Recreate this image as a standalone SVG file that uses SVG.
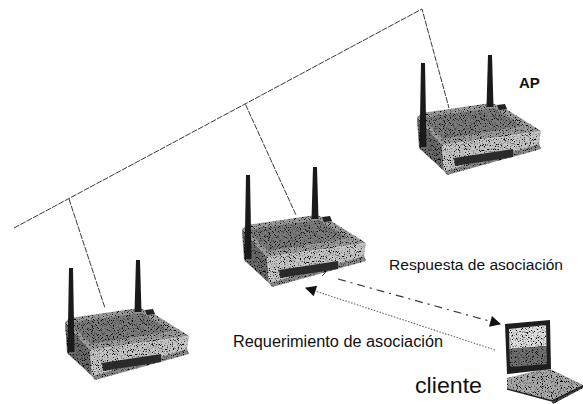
<svg xmlns="http://www.w3.org/2000/svg" xmlns:xlink="http://www.w3.org/1999/xlink" width="583" height="404" viewBox="0 0 583 404">
  <style>
    .wire { stroke: #3a3a3a; stroke-width: 1; fill: none; stroke-dasharray: 6 1.2; }
    .msg-resp { stroke: #3a3a3a; stroke-width: 1.2; fill: none; stroke-dasharray: 8 5 2 5; }
    .msg-req { stroke: #666; stroke-width: 1.1; fill: none; stroke-dasharray: 1.5 1.5; }
    .label { font-family: "Liberation Sans", Arial, sans-serif; fill: #111; }
  </style>
  <defs>
    <!-- speckle texture for the device bodies -->
    <filter id="grain" x="0" y="0" width="1" height="1">
      <feTurbulence type="fractalNoise" baseFrequency="1.2" numOctaves="1" seed="3" result="noise"/>
      <feColorMatrix in="noise" type="matrix" values="0 0 0 0 0  0 0 0 0 0  0 0 0 0 0  0 0 0 6 -3.1" result="dots"/>
      <feComposite in="dots" in2="SourceGraphic" operator="in" result="speck"/>
      <feMerge>
        <feMergeNode in="SourceGraphic"/>
        <feMergeNode in="speck"/>
      </feMerge>
    </filter>
    <marker id="head" viewBox="0 0 10 10" refX="9" refY="5" markerWidth="13" markerHeight="11" markerUnits="userSpaceOnUse" orient="auto">
      <path d="M0,0 L10,5 L0,10 z" fill="#111"/>
    </marker>
    <!-- wireless router, origin at the top of the left antenna -->
    <g id="router">
      <g filter="url(#grain)">
        <polygon points="-6,54 19,82 21,108 -4,85" fill="#6a6a6a"/>
        <polygon points="-6,54 -1,50 68,40 80,44 118,68 19,82" fill="#9a9a9a"/>
        <polygon points="-1,55 70,45 100,63 20,76" fill="#7a7a7a"/>
        <polygon points="19,82 118,68 116,81 21,108" fill="#c4c4c4"/>
        <polygon points="21,108 116,81 118,86 24,112" fill="#888"/>
      </g>
      <polygon points="31,95 90,86 90,94 32,103" fill="#2a2a2a"/>
      <polygon points="-2,0 2,0 3.5,84 -3.5,84" fill="#1a1a1a"/>
      <polygon points="65,-8 69,-8 70.5,44 63.5,44" fill="#1a1a1a"/>
      <polygon points="74,42 82,41 84,46 76,47" fill="#222"/>
    </g>
  </defs>

  <!-- wired backbone, drops and association messages -->
  <g id="connectors">
    <polyline class="wire" points="14,228 422,9 449,108"/>
    <line class="wire" x1="245.5" y1="104.5" x2="296" y2="215"/>
    <line class="wire" x1="69" y1="199" x2="105" y2="308"/>
    <line x1="322" y1="276" x2="327" y2="271" stroke="#444" stroke-width="1"/>
    <line class="msg-resp" x1="338" y1="279" x2="500" y2="324" marker-end="url(#head)"/>
    <line class="msg-req" x1="495" y1="350" x2="306" y2="288" marker-end="url(#head)"/>
  </g>

  <g id="ap-right">
    <use xlink:href="#router" x="423" y="63"/>
  </g>
  <g id="ap-middle">
    <use xlink:href="#router" x="248" y="175"/>
  </g>
  <g id="ap-left">
    <use xlink:href="#router" x="71" y="268"/>
  </g>

  <g id="client">
    <g filter="url(#grain)">
      <polygon points="507,378 548,368 583,385 552,401 507,389" fill="#a8a8a8"/>
      <polygon points="552,401 583,385 583,388 553,404" fill="#444"/>
    </g>
    <polyline points="507,389 552,401 583,386" fill="none" stroke="#222" stroke-width="1.5"/>
    <polygon points="505,324 550,320 551,369 507,374" fill="#1e1e1e"/>
    <polygon points="509,329 546,325 546.5,346 509.5,349" fill="#dcdcdc" filter="url(#grain)"/>
    <polygon points="509.5,349 546.5,346 547,364 510,367" fill="#707070" filter="url(#grain)"/>
  </g>

  <g id="labels">
    <text class="label" x="519" y="88" font-size="15" font-weight="bold">AP</text>
    <text class="label" x="389" y="270" font-size="15.5" textLength="174" lengthAdjust="spacingAndGlyphs">Respuesta de asociación</text>
    <text class="label" x="233" y="347" font-size="16" textLength="210" lengthAdjust="spacingAndGlyphs">Requerimiento de asociación</text>
    <text class="label" x="415" y="393" font-size="22" textLength="67" lengthAdjust="spacingAndGlyphs">cliente</text>
  </g>
</svg>
